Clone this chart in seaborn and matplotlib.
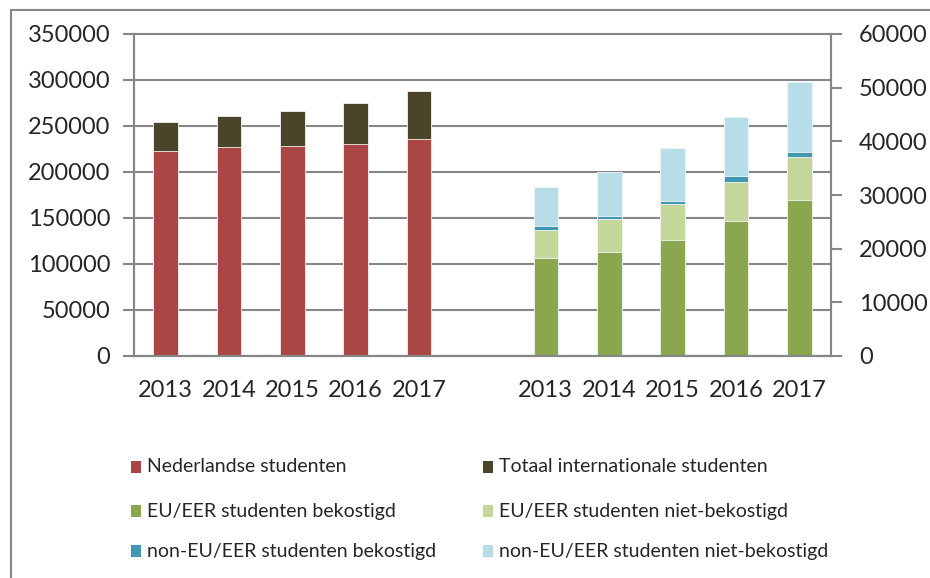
import pandas as pd
import matplotlib
matplotlib.use("Agg")
import matplotlib.pyplot as plt
from matplotlib.patches import Rectangle
from matplotlib.lines import Line2D
import seaborn as sns

# categories: 5 years, a gap, 5 years
years = ["2013", "2014", "2015", "2016", "2017"]
slots = ["L2013", "L2014", "L2015", "L2016", "L2017", "gap",
         "R2013", "R2014", "R2015", "R2016", "R2017"]
slot_labels = years + [""] + years

# left axis (all students)
nederlandse = [223000, 227000, 228000, 230300, 236400]
internationaal = [31800, 34300, 38700, 44800, 51300]

# right axis (international students split up)
eu_bek = [18300, 19400, 21600, 25200, 29050]
eu_niet = [5250, 6100, 6650, 7150, 7980]
noneu_bek = [680, 680, 630, 1120, 930]
noneu_niet = [7250, 8080, 9880, 11100, 13160]

c_ned = "#AA4643"
c_int = "#4A452A"
c_eu_bek = "#8AA64E"
c_eu_niet = "#C4D79B"
c_noneu_bek = "#4298B1"
c_noneu_niet = "#B7DEE8"
grey = "#868686"

sns.set_style("white")
plt.rcParams["font.family"] = ["Lato", "DejaVu Sans"]

left = pd.DataFrame({"slot": slots[:5], "ned": nederlandse, "int": internationaal})
left["totaal"] = left["ned"] + left["int"]

right = pd.DataFrame({"slot": slots[6:], "a": eu_bek, "b": eu_niet,
                      "c": noneu_bek, "d": noneu_niet})
right["s1"] = right["a"]
right["s2"] = right["s1"] + right["b"]
right["s3"] = right["s2"] + right["c"]
right["s4"] = right["s3"] + right["d"]

fig = plt.figure(figsize=(9.3, 5.78), dpi=100)
ax = fig.add_axes([134 / 930, 1 - 356 / 578, (831 - 134) / 930, (356 - 34) / 578])
ax2 = ax.twinx()

bw = 0.39
sns.barplot(data=left, x="slot", y="totaal", order=slots, color=c_int,
            width=bw, saturation=1, linewidth=0.6, edgecolor="#f4f4f4", ax=ax)
sns.barplot(data=left, x="slot", y="ned", order=slots, color=c_ned,
            width=bw, saturation=1, linewidth=0.6, edgecolor="#f4f4f4", ax=ax)

for col, c in [("s4", c_noneu_niet), ("s3", c_noneu_bek), ("s2", c_eu_niet), ("s1", c_eu_bek)]:
    sns.barplot(data=right, x="slot", y=col, order=slots, color=c,
                width=bw, saturation=1, linewidth=0.6, edgecolor="#f4f4f4", ax=ax2)

ax.set_xlim(-0.5, 10.5)
ax.set_ylim(0, 350000)
ax2.set_ylim(0, 60000)
ax.set_yticks(range(0, 350001, 50000))
ax2.set_yticks(range(0, 60001, 10000))
ax.set_xlabel("")
ax.set_ylabel("")
ax2.set_ylabel("")

ax.set_xticks([i - 0.5 for i in range(12)])
ax.set_xticklabels([])
ax.set_xticks(range(11), minor=True)
ax.set_xticklabels(slot_labels, minor=True)
ax.tick_params(axis="x", which="major", length=8, width=1.5, color=grey, direction="out")
ax.tick_params(axis="x", which="minor", length=0, pad=17, labelsize=17)
ax.tick_params(axis="y", length=8, width=1.5, color=grey, direction="out", pad=9, labelsize=17)
ax2.tick_params(axis="y", length=8, width=1.5, color=grey, direction="out", pad=12, labelsize=17)

ax.grid(axis="y", color=grey, linewidth=1.5)
ax.set_axisbelow(True)
for a in (ax, ax2):
    for s in ["left", "right", "bottom"]:
        a.spines[s].set_color(grey)
        a.spines[s].set_linewidth(1.5)
    a.spines["top"].set_visible(False)
ax.spines["top"].set_visible(True)
ax.spines["top"].set_color(grey)
ax.spines["top"].set_linewidth(1.5)

# outer chart frame (only left and top edges visible)
fig.add_artist(Line2D([11 / 930, 11 / 930], [0, 1 - 10 / 578], transform=fig.transFigure,
                      color=grey, linewidth=1.5))
fig.add_artist(Line2D([11 / 930, 1], [1 - 10 / 578, 1 - 10 / 578], transform=fig.transFigure,
                      color=grey, linewidth=1.5))

# legend, two columns
entries = [
    ("Nederlandse studenten", c_ned, 131, 467),
    ("Totaal internationale studenten", c_int, 483, 467),
    ("EU/EER studenten bekostigd", c_eu_bek, 131, 511),
    ("EU/EER studenten niet-bekostigd", c_eu_niet, 483, 511),
    ("non-EU/EER studenten bekostigd", c_noneu_bek, 131, 551),
    ("non-EU/EER studenten niet-bekostigd", c_noneu_niet, 483, 551),
]
for label, c, x, y in entries:
    fig.add_artist(Rectangle((x / 930, 1 - (y + 6) / 578), 10 / 930, 12 / 578,
                             transform=fig.transFigure, facecolor=c, edgecolor="none"))
    fig.text((x + 16) / 930, 1 - y / 578, label, fontsize=14, va="center", ha="left")

fig.savefig("out.png", dpi=100)
